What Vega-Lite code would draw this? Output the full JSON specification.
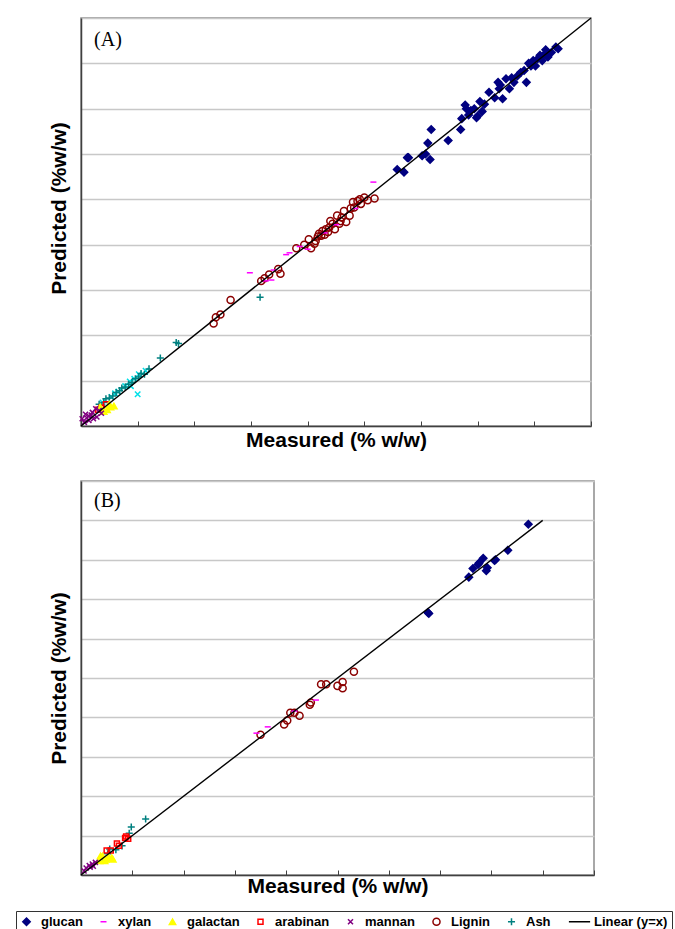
{
  "$schema": "https://vega.github.io/schema/vega-lite/v6.json",
  "padding": {"left": 15, "top": 14, "right": 5, "bottom": 0},
  "bounds": "flush",
  "spacing": 55,
  "config": {
    "font": "Liberation Sans",
    "view": {"stroke": "#8c8c8c", "strokeWidth": 1.5},
    "axis": {
      "labels": false,
      "titleFont": "Liberation Sans",
      "titleFontSize": 21,
      "titleFontWeight": "bold",
      "titleColor": "black",
      "domainColor": "#404040",
      "domainWidth": 1.5,
      "tickColor": "#404040",
      "tickWidth": 1,
      "gridColor": "#c8c8c8",
      "gridWidth": 1.5
    },
    "legend": {
      "labelFont": "Liberation Sans",
      "labelFontSize": 13,
      "labelFontWeight": "bold",
      "labelColor": "black",
      "strokeColor": "#333333",
      "fillColor": "white",
      "padding": 4,
      "columnPadding": 14,
      "labelOffset": 8,
      "symbolSize": 50
    }
  },
  "resolve": {"scale": {"x": "independent", "y": "independent"}},
  "datasets": {
    "lineA": [{"m": 0, "pr": 0, "c": "Linear (y=x)"}, {"m": 45, "pr": 45, "c": "Linear (y=x)"}],
    "lineB": [{"m": 0, "pr": 0, "c": "Linear (y=x)"}, {"m": 45, "pr": 45, "c": "Linear (y=x)"}],
    "labA": [{"m": 1.15, "pr": 42.6, "t": "(A)"}],
    "labB": [{"m": 1.27, "pr": 47.5, "t": "(B)"}],
    "cyanA": [
      {"m": 5.0, "pr": 3.5}, {"m": 5.1, "pr": 5.7}, {"m": 4.7, "pr": 5.2}, {"m": 3.9, "pr": 4.4},
      {"m": 3.3, "pr": 3.8}, {"m": 2.7, "pr": 3.2}, {"m": 5.7, "pr": 6.1}, {"m": 1.9, "pr": 2.6},
      {"m": 4.3, "pr": 4.9}, {"m": 3.0, "pr": 3.6}, {"m": 4.4, "pr": 4.4}
    ],
    "A": [
      {"c": "glucan", "m": 27.9, "pr": 28.3}, {"c": "glucan", "m": 28.5, "pr": 28.0}, {"c": "glucan", "m": 28.8, "pr": 29.6},
      {"c": "glucan", "m": 28.9, "pr": 29.6}, {"c": "glucan", "m": 30.1, "pr": 29.8}, {"c": "glucan", "m": 30.4, "pr": 30.0},
      {"c": "glucan", "m": 30.8, "pr": 29.4}, {"c": "glucan", "m": 30.6, "pr": 31.2}, {"c": "glucan", "m": 30.9, "pr": 32.7},
      {"c": "glucan", "m": 32.4, "pr": 31.5}, {"c": "glucan", "m": 33.5, "pr": 32.7}, {"c": "glucan", "m": 33.6, "pr": 33.9},
      {"c": "glucan", "m": 34.0, "pr": 35.0}, {"c": "glucan", "m": 34.4, "pr": 34.8}, {"c": "glucan", "m": 34.9, "pr": 34.0},
      {"c": "glucan", "m": 34.7, "pr": 35.0}, {"c": "glucan", "m": 35.4, "pr": 34.7}, {"c": "glucan", "m": 35.6, "pr": 35.5},
      {"c": "glucan", "m": 36.0, "pr": 36.8}, {"c": "glucan", "m": 36.5, "pr": 36.2}, {"c": "glucan", "m": 36.8, "pr": 37.9},
      {"c": "glucan", "m": 37.2, "pr": 36.1}, {"c": "glucan", "m": 36.9, "pr": 37.2}, {"c": "glucan", "m": 37.5, "pr": 38.3},
      {"c": "glucan", "m": 37.8, "pr": 37.2}, {"c": "glucan", "m": 38.2, "pr": 37.9}, {"c": "glucan", "m": 38.5, "pr": 38.6},
      {"c": "glucan", "m": 38.8, "pr": 39.0}, {"c": "glucan", "m": 39.3, "pr": 37.9}, {"c": "glucan", "m": 39.1, "pr": 39.2},
      {"c": "glucan", "m": 39.7, "pr": 39.7}, {"c": "glucan", "m": 39.9, "pr": 40.3}, {"c": "glucan", "m": 40.3, "pr": 40.5},
      {"c": "glucan", "m": 40.1, "pr": 39.7}, {"c": "glucan", "m": 40.7, "pr": 40.3}, {"c": "glucan", "m": 40.9, "pr": 41.0},
      {"c": "glucan", "m": 41.2, "pr": 40.7}, {"c": "glucan", "m": 41.5, "pr": 41.2}, {"c": "glucan", "m": 41.9, "pr": 41.8},
      {"c": "glucan", "m": 42.1, "pr": 41.6}, {"c": "glucan", "m": 34.2, "pr": 34.3}, {"c": "glucan", "m": 35.0, "pr": 34.2},
      {"c": "glucan", "m": 33.9, "pr": 35.4}, {"c": "glucan", "m": 38.0, "pr": 38.4}, {"c": "glucan", "m": 40.5, "pr": 40.9},
      {"c": "glucan", "m": 37.0, "pr": 37.6}, {"c": "glucan", "m": 39.5, "pr": 40.0}, {"c": "glucan", "m": 41.0, "pr": 41.5},
      {"c": "glucan", "m": 35.2, "pr": 35.8},
      {"c": "Lignin", "m": 11.7, "pr": 11.3}, {"c": "Lignin", "m": 11.9, "pr": 12.0}, {"c": "Lignin", "m": 12.3, "pr": 12.3},
      {"c": "Lignin", "m": 13.2, "pr": 13.9}, {"c": "Lignin", "m": 15.9, "pr": 16.0}, {"c": "Lignin", "m": 16.6, "pr": 16.7},
      {"c": "Lignin", "m": 17.4, "pr": 17.3}, {"c": "Lignin", "m": 17.6, "pr": 16.8}, {"c": "Lignin", "m": 19.0, "pr": 19.6},
      {"c": "Lignin", "m": 19.7, "pr": 20.0}, {"c": "Lignin", "m": 20.1, "pr": 20.6}, {"c": "Lignin", "m": 20.6, "pr": 20.1},
      {"c": "Lignin", "m": 20.3, "pr": 19.6}, {"c": "Lignin", "m": 20.7, "pr": 20.4}, {"c": "Lignin", "m": 21.0, "pr": 21.2},
      {"c": "Lignin", "m": 21.3, "pr": 21.5}, {"c": "Lignin", "m": 21.6, "pr": 21.7}, {"c": "Lignin", "m": 21.9, "pr": 21.9},
      {"c": "Lignin", "m": 22.2, "pr": 22.3}, {"c": "Lignin", "m": 22.4, "pr": 21.7}, {"c": "Lignin", "m": 22.6, "pr": 23.2},
      {"c": "Lignin", "m": 22.9, "pr": 22.6}, {"c": "Lignin", "m": 23.2, "pr": 23.7}, {"c": "Lignin", "m": 23.4, "pr": 22.5},
      {"c": "Lignin", "m": 23.7, "pr": 23.2}, {"c": "Lignin", "m": 24.0, "pr": 24.7}, {"c": "Lignin", "m": 24.1, "pr": 24.1},
      {"c": "Lignin", "m": 24.4, "pr": 24.8}, {"c": "Lignin", "m": 24.7, "pr": 24.5}, {"c": "Lignin", "m": 25.0, "pr": 25.2},
      {"c": "Lignin", "m": 25.3, "pr": 24.9}, {"c": "Lignin", "m": 25.9, "pr": 25.1}, {"c": "Lignin", "m": 21.2, "pr": 21.0},
      {"c": "Lignin", "m": 21.8, "pr": 21.4}, {"c": "Lignin", "m": 22.8, "pr": 22.3}, {"c": "Lignin", "m": 21.5, "pr": 21.1},
      {"c": "Lignin", "m": 22.0, "pr": 22.6}, {"c": "Lignin", "m": 23.0, "pr": 23.0}, {"c": "Lignin", "m": 23.8, "pr": 24.0},
      {"c": "Lignin", "m": 24.6, "pr": 25.0}, {"c": "Lignin", "m": 16.2, "pr": 16.3}, {"c": "Lignin", "m": 20.9, "pr": 20.9},
      {"c": "xylan", "m": 14.9, "pr": 16.9}, {"c": "xylan", "m": 25.8, "pr": 26.9}, {"c": "xylan", "m": 18.1, "pr": 18.9},
      {"c": "xylan", "m": 18.4, "pr": 19.1}, {"c": "xylan", "m": 16.8, "pr": 16.1}, {"c": "xylan", "m": 20.0, "pr": 19.5},
      {"c": "xylan", "m": 19.3, "pr": 19.8}, {"c": "xylan", "m": 17.0, "pr": 17.2}, {"c": "xylan", "m": 21.5, "pr": 21.3},
      {"c": "xylan", "m": 22.5, "pr": 22.2}, {"c": "xylan", "m": 24.2, "pr": 24.0}, {"c": "xylan", "m": 16.3, "pr": 16.0},
      {"c": "Ash", "m": 15.8, "pr": 14.2}, {"c": "Ash", "m": 8.4, "pr": 9.2}, {"c": "Ash", "m": 8.6, "pr": 9.1},
      {"c": "Ash", "m": 7.0, "pr": 7.5}, {"c": "Ash", "m": 6.0, "pr": 6.3}, {"c": "Ash", "m": 5.6, "pr": 5.7},
      {"c": "Ash", "m": 5.1, "pr": 5.4}, {"c": "Ash", "m": 4.5, "pr": 4.8}, {"c": "Ash", "m": 3.9, "pr": 4.3},
      {"c": "Ash", "m": 3.4, "pr": 3.9}, {"c": "Ash", "m": 2.8, "pr": 3.3}, {"c": "Ash", "m": 2.2, "pr": 3.0},
      {"c": "Ash", "m": 1.6, "pr": 2.4}, {"c": "Ash", "m": 4.2, "pr": 4.6}, {"c": "Ash", "m": 3.1, "pr": 3.7},
      {"c": "Ash", "m": 2.5, "pr": 3.1}, {"c": "Ash", "m": 3.6, "pr": 4.2}, {"c": "Ash", "m": 4.8, "pr": 5.2},
      {"c": "Ash", "m": 2.0, "pr": 2.6}, {"c": "Ash", "m": 5.3, "pr": 5.8},
      {"c": "arabinan", "m": 1.5, "pr": 1.8}, {"c": "arabinan", "m": 2.2, "pr": 2.4}, {"c": "arabinan", "m": 1.8, "pr": 2.0},
      {"c": "galactan", "m": 1.7, "pr": 2.1}, {"c": "galactan", "m": 2.0, "pr": 1.6}, {"c": "galactan", "m": 2.6, "pr": 2.1},
      {"c": "galactan", "m": 2.9, "pr": 2.2}, {"c": "galactan", "m": 2.3, "pr": 1.8}, {"c": "galactan", "m": 2.5, "pr": 2.4},
      {"c": "mannan", "m": 0.1, "pr": 0.8}, {"c": "mannan", "m": 0.4, "pr": 1.3}, {"c": "mannan", "m": 0.7, "pr": 1.1},
      {"c": "mannan", "m": 1.0, "pr": 1.5}, {"c": "mannan", "m": 1.3, "pr": 1.9}, {"c": "mannan", "m": 1.6, "pr": 1.7},
      {"c": "mannan", "m": 1.4, "pr": 1.0}, {"c": "mannan", "m": 1.1, "pr": 0.8}, {"c": "mannan", "m": 0.7, "pr": 0.6},
      {"c": "mannan", "m": 0.3, "pr": 0.4}, {"c": "mannan", "m": 0.9, "pr": 1.2}, {"c": "mannan", "m": 1.8, "pr": 1.4},
      {"c": "mannan", "m": 0.5, "pr": 0.9}
    ],
    "B": [
      {"c": "glucan", "m": 33.8, "pr": 33.3}, {"c": "glucan", "m": 33.9, "pr": 33.2}, {"c": "glucan", "m": 37.8, "pr": 37.8},
      {"c": "glucan", "m": 38.2, "pr": 38.9}, {"c": "glucan", "m": 38.8, "pr": 39.6}, {"c": "glucan", "m": 39.2, "pr": 40.2},
      {"c": "glucan", "m": 39.5, "pr": 38.6}, {"c": "glucan", "m": 39.6, "pr": 39.0}, {"c": "glucan", "m": 40.3, "pr": 39.9},
      {"c": "glucan", "m": 40.4, "pr": 40.0}, {"c": "glucan", "m": 41.6, "pr": 41.2}, {"c": "glucan", "m": 43.6, "pr": 44.5},
      {"c": "glucan", "m": 38.7, "pr": 39.4},
      {"c": "Lignin", "m": 17.5, "pr": 17.8}, {"c": "Lignin", "m": 19.8, "pr": 19.1}, {"c": "Lignin", "m": 20.1, "pr": 19.6},
      {"c": "Lignin", "m": 20.4, "pr": 20.6}, {"c": "Lignin", "m": 20.8, "pr": 20.6}, {"c": "Lignin", "m": 21.3, "pr": 20.2},
      {"c": "Lignin", "m": 22.3, "pr": 21.6}, {"c": "Lignin", "m": 23.4, "pr": 24.2}, {"c": "Lignin", "m": 23.9, "pr": 24.2},
      {"c": "Lignin", "m": 25.0, "pr": 24.0}, {"c": "Lignin", "m": 25.5, "pr": 24.5}, {"c": "Lignin", "m": 25.5, "pr": 23.7},
      {"c": "Lignin", "m": 26.6, "pr": 25.8}, {"c": "Lignin", "m": 22.4, "pr": 21.9},
      {"c": "xylan", "m": 17.1, "pr": 18.0}, {"c": "xylan", "m": 18.2, "pr": 18.8}, {"c": "xylan", "m": 22.9, "pr": 22.2},
      {"c": "xylan", "m": 20.8, "pr": 20.8},
      {"c": "Ash", "m": 6.3, "pr": 7.1}, {"c": "Ash", "m": 4.9, "pr": 6.1}, {"c": "Ash", "m": 4.7, "pr": 5.3},
      {"c": "Ash", "m": 2.8, "pr": 3.3}, {"c": "Ash", "m": 2.6, "pr": 2.7}, {"c": "Ash", "m": 2.1, "pr": 2.3},
      {"c": "Ash", "m": 4.0, "pr": 3.7}, {"c": "Ash", "m": 3.4, "pr": 3.2},
      {"c": "arabinan", "m": 4.4, "pr": 4.9}, {"c": "arabinan", "m": 4.6, "pr": 4.6}, {"c": "arabinan", "m": 3.5, "pr": 4.0},
      {"c": "arabinan", "m": 3.7, "pr": 3.7}, {"c": "arabinan", "m": 2.9, "pr": 3.1}, {"c": "arabinan", "m": 2.5, "pr": 3.1},
      {"c": "arabinan", "m": 4.3, "pr": 4.7},
      {"c": "galactan", "m": 2.1, "pr": 2.4}, {"c": "galactan", "m": 2.4, "pr": 2.0}, {"c": "galactan", "m": 1.8, "pr": 1.8},
      {"c": "galactan", "m": 3.1, "pr": 2.0}, {"c": "galactan", "m": 1.9, "pr": 2.4}, {"c": "galactan", "m": 3.0, "pr": 2.2},
      {"c": "galactan", "m": 2.3, "pr": 1.8}, {"c": "galactan", "m": 2.7, "pr": 2.3},
      {"c": "mannan", "m": 0.8, "pr": 1.2}, {"c": "mannan", "m": 1.1, "pr": 1.4}, {"c": "mannan", "m": 0.5, "pr": 0.9},
      {"c": "mannan", "m": 1.4, "pr": 1.6}, {"c": "mannan", "m": 0.9, "pr": 1.0}, {"c": "mannan", "m": 0.3, "pr": 0.5},
      {"c": "mannan", "m": 1.2, "pr": 1.1}
    ]
  },
  "vconcat": [
    {
      "width": 510,
      "height": 408,
      "encoding": {
        "x": {"field": "m", "type": "quantitative", "scale": {"domain": [0, 45], "nice": false},
          "axis": {"title": "Measured (% w/w)", "values": [0, 5, 10, 15, 20, 25, 30, 35, 40, 45], "grid": false, "tickSize": -5, "titlePadding": 3}},
        "y": {"field": "pr", "type": "quantitative", "scale": {"domain": [0, 45], "nice": false},
          "axis": {"title": "Predicted (%w/w)", "values": [0, 5, 10, 15, 20, 25, 30, 35, 40, 45], "ticks": false, "grid": true, "titlePadding": 12, "titleY": 190}}
      },
      "layer": [
        {"data": {"name": "cyanA"}, "mark": {"type": "point", "shape": "M-1,-1L1,1M-1,1L1,-1", "size": 30, "color": "#00e0e8", "strokeWidth": 1.5, "opacity": 1}},
        {
          "data": {"name": "A"},
          "mark": {"type": "point", "filled": false, "strokeWidth": 1.5, "opacity": 1},
          "encoding": {
            "color": {"field": "c", "type": "nominal",
              "scale": {"domain": ["glucan", "xylan", "galactan", "arabinan", "mannan", "Lignin", "Ash", "Linear (y=x)"],
                "range": ["#000080", "#ff00ff", "#ffff00", "#ff0000", "#800080", "#8b0000", "#008080", "#000000"]},
              "legend": {"title": null, "orient": "none", "legendX": -65, "legendY": 893, "direction": "horizontal", "columns": 8,
                "encode": {"symbols": {"update": {
                  "fill": {"signal": "datum.value === 'glucan' ? '#000080' : datum.value === 'galactan' ? '#ffff00' : 'transparent'"},
                  "size": {"signal": "datum.value === 'xylan' ? 36 : datum.value === 'Linear (y=x)' ? 50 : 30"},
                  "strokeWidth": {"value": 1.5}}}}}},
            "shape": {"field": "c", "type": "nominal",
              "scale": {"domain": ["glucan", "xylan", "galactan", "arabinan", "mannan", "Lignin", "Ash", "Linear (y=x)"],
                "range": ["diamond", "M-1,0H1", "triangle-up", "square", "M-1,-1L1,1M-1,1L1,-1", "circle", "M-1,0H1M0,-1V1", "M-3,0H3"]}},
            "size": {"field": "c", "type": "nominal", "legend": null,
              "scale": {"type": "ordinal", "domain": ["glucan", "xylan", "galactan", "arabinan", "mannan", "Lignin", "Ash", "Linear (y=x)"],
                "range": [55, 36, 40, 25, 25, 50, 50, 50]}},
            "fill": {"field": "c", "type": "nominal",
              "scale": {"domain": ["glucan", "xylan", "galactan", "arabinan", "mannan", "Lignin", "Ash", "Linear (y=x)"],
                "range": ["#000080", "transparent", "#ffff00", "transparent", "transparent", "transparent", "transparent", "transparent"]},
              "legend": null}
          }
        },
        {"data": {"name": "lineA"}, "mark": {"type": "line", "strokeWidth": 1.4}, "encoding": {"color": {"field": "c", "type": "nominal"}}},
        {"data": {"name": "labA"}, "mark": {"type": "text", "font": "Liberation Serif", "fontSize": 20, "align": "left", "baseline": "middle", "color": "black"}, "encoding": {"text": {"field": "t"}}}
      ]
    },
    {
      "width": 513,
      "height": 394,
      "encoding": {
        "x": {"field": "m", "type": "quantitative", "scale": {"domain": [0, 50], "nice": false},
          "axis": {"title": "Measured (% w/w)", "values": [0, 5, 10, 15, 20, 25, 30, 35, 40, 45, 50], "grid": false, "tickSize": -5, "titlePadding": 0}},
        "y": {"field": "pr", "type": "quantitative", "scale": {"domain": [0, 50], "nice": false},
          "axis": {"title": "Predicted (%w/w)", "values": [0, 5, 10, 15, 20, 25, 30, 35, 40, 45, 50], "ticks": false, "grid": true, "titlePadding": 12}}
      },
      "layer": [
        {
          "data": {"name": "B"},
          "mark": {"type": "point", "filled": false, "strokeWidth": 1.5, "opacity": 1},
          "encoding": {
            "color": {"field": "c", "type": "nominal"},
            "shape": {"field": "c", "type": "nominal"},
            "size": {"field": "c", "type": "nominal", "legend": null,
              "scale": {"type": "ordinal", "domain": ["glucan", "xylan", "galactan", "arabinan", "mannan", "Lignin", "Ash", "Linear (y=x)"],
                "range": [55, 36, 40, 25, 25, 50, 50, 50]}},
            "fill": {"field": "c", "type": "nominal", "legend": null}
          }
        },
        {"data": {"name": "lineB"}, "mark": {"type": "line", "strokeWidth": 1.4}, "encoding": {"color": {"field": "c", "type": "nominal"}}},
        {"data": {"name": "labB"}, "mark": {"type": "text", "font": "Liberation Serif", "fontSize": 20, "align": "left", "baseline": "middle", "color": "black"}, "encoding": {"text": {"field": "t"}}}
      ]
    }
  ]
}
